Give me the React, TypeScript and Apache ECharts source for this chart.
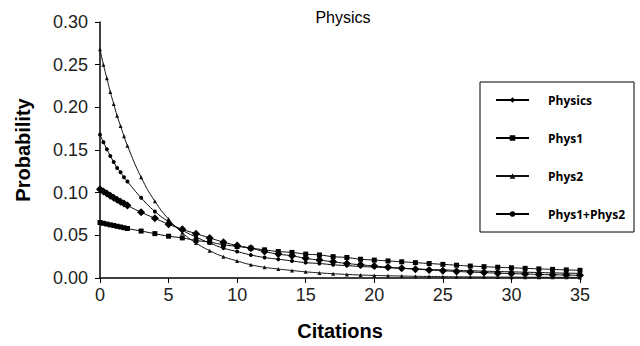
import React, { useEffect, useRef } from "react";
import * as echarts from "echarts";

const citations = [0, 0.25, 0.5, 0.75, 1, 1.25, 1.5, 1.75, 2, 3, 4, 5, 6, 7, 8, 9, 10, 11, 12, 13, 14, 15, 16, 17, 18, 19, 20, 21, 22, 23, 24, 25, 26, 27, 28, 29, 30, 31, 32, 33, 34, 35];

const physics = [0.104, 0.1015, 0.099, 0.0965, 0.094, 0.0918, 0.0895, 0.0873, 0.085, 0.077, 0.07, 0.063, 0.057, 0.052, 0.047, 0.042, 0.038, 0.035, 0.031, 0.028, 0.026, 0.023, 0.021, 0.019, 0.017, 0.0155, 0.014, 0.0127, 0.0115, 0.0104, 0.0094, 0.0085, 0.0077, 0.007, 0.0063, 0.0057, 0.0052, 0.0047, 0.0042, 0.0038, 0.0035, 0.0031];

const phys1 = [0.065, 0.0641, 0.0632, 0.0623, 0.0615, 0.0606, 0.0598, 0.0589, 0.058, 0.055, 0.052, 0.049, 0.047, 0.044, 0.042, 0.039, 0.037, 0.035, 0.033, 0.031, 0.03, 0.028, 0.027, 0.025, 0.024, 0.022, 0.021, 0.02, 0.019, 0.018, 0.017, 0.016, 0.015, 0.014, 0.0133, 0.0126, 0.012, 0.0113, 0.0107, 0.0101, 0.0095, 0.009];

const phys2 = [0.268, 0.25, 0.234, 0.218, 0.204, 0.19, 0.178, 0.166, 0.155, 0.118, 0.09, 0.069, 0.053, 0.041, 0.032, 0.025, 0.02, 0.0155, 0.0125, 0.0105, 0.0088, 0.0072, 0.006, 0.005, 0.0042, 0.0035, 0.003, 0.0026, 0.0023, 0.002, 0.0018, 0.0016, 0.0014, 0.0013, 0.0012, 0.0011, 0.001, 0.0009, 0.0009, 0.0008, 0.0008, 0.0007];

const phys1Phys2 = [0.168, 0.159, 0.151, 0.143, 0.136, 0.129, 0.124, 0.118, 0.113, 0.094, 0.078, 0.066, 0.056, 0.048, 0.041, 0.035, 0.031, 0.027, 0.024, 0.022, 0.02, 0.018, 0.017, 0.0155, 0.0145, 0.0135, 0.0128, 0.012, 0.0113, 0.0107, 0.01, 0.0095, 0.009, 0.0085, 0.008, 0.0076, 0.0072, 0.0068, 0.0064, 0.006, 0.0057, 0.0054];

const seriesNames = ["Physics", "Phys1", "Phys2", "Phys1+Phys2"];
const seriesValues = [physics, phys1, phys2, phys1Phys2];
const seriesSymbols = ["diamond", "rect", "triangle", "circle"];
const seriesSymbolSizes = [8, 5, 4, 4];
const seriesColors = ["#000000", "#000000", "#111111", "#000000"];

const FONT = "Liberation Sans, Arial, sans-serif";

export default function App() {
  const ref = useRef<HTMLDivElement>(null);

  useEffect(() => {
    if (!ref.current) return;
    const chart = echarts.init(ref.current, undefined, { renderer: "svg" });
    const series = seriesNames.map((name, i) => ({
      name,
      type: "line",
      smooth: true,
      symbol: seriesSymbols[i],
      symbolSize: seriesSymbolSizes[i],
      showAllSymbol: true,
      data: citations.map((c, j) => [c, seriesValues[i][j]]),
      lineStyle: { color: seriesColors[i], width: 1 },
      itemStyle: { color: seriesColors[i] },
    }));
    chart.setOption({
      animation: false,
      backgroundColor: "#ffffff",
      title: {
        text: "Physics",
        left: 338,
        top: 4,
        textAlign: "center",
        textStyle: { fontFamily: FONT, fontSize: 16, fontWeight: "normal", color: "#000" },
      },
      grid: { left: 100, right: 60, top: 22, bottom: 63 },
      xAxis: {
        type: "value",
        min: 0,
        max: 35,
        interval: 5,
        name: "Citations",
        nameLocation: "middle",
        nameGap: 43,
        nameTextStyle: { fontFamily: FONT, fontSize: 20, fontWeight: "bold", color: "#000" },
        axisLine: { lineStyle: { color: "#000", width: 1.5 } },
        axisTick: { show: true, length: 5, lineStyle: { color: "#000" } },
        axisLabel: { fontFamily: FONT, fontSize: 18, color: "#222", margin: 8 },
        splitLine: { show: false },
      },
      yAxis: {
        type: "value",
        min: 0,
        max: 0.3,
        interval: 0.05,
        name: "Probability",
        nameLocation: "middle",
        nameGap: 67,
        nameTextStyle: { fontFamily: FONT, fontSize: 20, fontWeight: "bold", color: "#000" },
        axisLine: { show: true, lineStyle: { color: "#000", width: 1.5 } },
        axisTick: { show: true, length: 5, lineStyle: { color: "#000" } },
        axisLabel: {
          fontFamily: FONT,
          fontSize: 18,
          color: "#222",
          margin: 12,
          formatter: (v: number) => v.toFixed(2),
        },
        splitLine: { show: false },
      },
      legend: {
        orient: "vertical",
        left: 495,
        top: 94,
        itemWidth: 33,
        itemHeight: 7,
        itemGap: 26,
        padding: 0,
        data: seriesNames,
        textStyle: {
          fontFamily: "Open Sans, sans-serif",
          fontSize: 12,
          fontWeight: "bold",
          color: "#000",
          lineHeight: 12,
          padding: [0, 0, 0, 14],
        },
      },
      graphic: [
        {
          type: "rect",
          shape: { x: 480, y: 82, width: 154, height: 150 },
          style: { fill: "none", stroke: "#000", lineWidth: 1 },
          z: 10,
        },
      ],
      series,
    });
    return () => chart.dispose();
  }, []);

  return (
    <div
      ref={ref}
      style={{ position: "fixed", left: 0, top: 0, width: 640, height: 346, background: "#fff" }}
    />
  );
}
